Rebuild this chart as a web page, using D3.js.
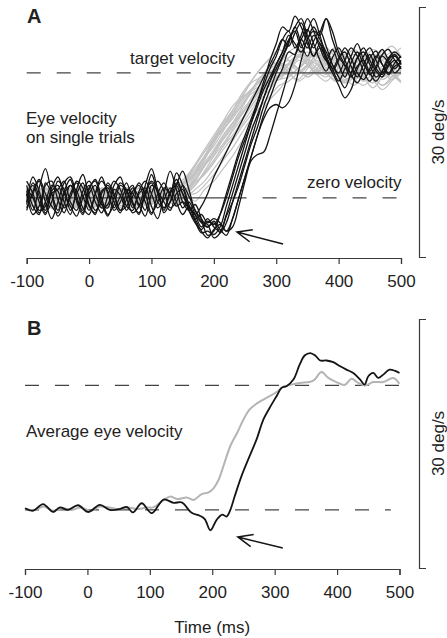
<!DOCTYPE html>
<html>
<head>
<meta charset="utf-8">
<script src="https://cdn.jsdelivr.net/npm/d3@7"></script>
<style>
  html, body { margin: 0; padding: 0; background: #fff; }
  svg { display: block; }
  text { font-family: "Liberation Sans", Arial, Helvetica, sans-serif; fill: #222; }
</style>
</head>
<body>
<svg id="chart" width="447" height="638"></svg>
<script>
const xTicks = [-100, 0, 100, 200, 300, 400, 500];
const blackTimes = d3.range(-100, 501, 10);
const grayTimes = d3.range(-100, 501, 15);
const targetSpeed = 15;

// single trials, deg/s, sampled every 10 ms (-100..500)
const blackTrials = [
  [1.5, -1.0, -2.0, 1.8, 0.5, -1.5, 0.8, 2.2, -0.5, -2.0,
   0.5, 1.5, -0.8, -1.2, 1.0, 0.3, -1.5, 0.2, 1.8, 0.5,
   -1.8, -0.5, 1.2, 0.4, -1.0, -0.5, -1.2, -2.0, -1.0, 0.5,
   2.5, 4.0, 5.5, 7.0, 8.5, 10.0, 11.5, 13.0, 14.5, 16.0,
   17.5, 19.0, 18.2, 19.8, 21.0, 19.0, 17.0, 18.5, 17.0, 15.5,
   16.8, 17.5, 15.8, 14.5, 16.0, 17.2, 15.5, 14.8, 16.5, 17.2,
   16.0],
  [-0.5, 2.5, 0.8, -1.8, -0.5, 2.0, 1.0, -1.5, 0.5, 1.8,
   -0.8, -2.0, 0.8, 1.2, -0.5, -1.8, 0.6, 1.5, -1.0, 0.2,
   2.8, 0.5, -1.5, 0.8, 1.5, -0.5, -1.5, -0.8, -2.5, -4.5,
   -4.0, -2.0, 0.5, 3.0, 5.5, 7.5, 9.5, 11.5, 13.5, 15.5,
   17.0, 19.0, 20.0, 18.0, 19.5, 21.5, 20.0, 18.0, 16.5, 17.8,
   16.0, 14.5, 16.2, 17.5, 16.0, 15.2, 16.8, 17.8, 16.5, 15.5,
   16.5],
  [0.8, -1.5, 1.2, 3.5, 0.5, -2.2, -0.8, 1.5, 0.8, -1.2,
   -2.0, 0.5, 2.0, 0.8, -1.5, -0.5, 1.0, 0.5, -0.8, -2.2,
   0.5, 2.0, 0.8, -1.2, -0.5, 1.5, 0.2, -1.5, -2.8, -3.2,
   -4.8, -4.2, -2.0, 0.5, 3.0, 5.5, 8.0, 10.0, 12.0, 14.0,
   16.0, 17.5, 19.0, 20.0, 18.0, 20.0, 21.5, 19.5, 17.0, 15.5,
   14.0, 15.5, 17.0, 18.5, 16.5, 14.8, 15.8, 17.0, 16.2, 15.0,
   15.8],
  [-1.2, 0.5, 2.0, -0.5, -2.5, -0.5, 1.8, 2.5, 0.2, -1.8,
   1.0, 2.2, 0.0, -2.0, -0.8, 1.5, 0.8, -1.2, 0.5, 1.2,
   -1.0, -2.5, 0.5, 3.2, 1.0, -1.2, -0.5, -2.0, -3.5, -2.5,
   -3.5, -4.0, -2.2, -0.5, 1.5, 4.0, 6.5, 8.5, 11.0, 13.0,
   15.0, 16.8, 18.5, 20.5, 18.5, 17.0, 18.8, 20.0, 18.2, 16.0,
   14.5, 13.2, 15.0, 16.8, 17.5, 16.0, 14.5, 15.2, 16.8, 17.5,
   16.8],
  [2.0, 0.5, -1.5, -1.0, 1.2, 2.5, 0.5, -1.0, -2.2, 0.0,
   1.5, -0.5, -1.8, 0.2, 2.0, 1.0, -1.0, -1.5, 0.8, 2.0,
   0.5, -1.2, -0.2, 1.2, -0.5, -2.0, -1.0, -2.5, -4.0, -4.8,
   -3.8, -3.2, -4.0, -2.5, 0.0, 2.5, 5.0, 7.5, 10.0, 12.0,
   14.0, 15.5, 17.5, 17.2, 19.0, 20.2, 18.5, 16.5, 15.2, 16.8,
   18.0, 16.5, 14.8, 13.8, 15.2, 16.8, 17.6, 16.0, 15.0, 16.2,
   17.0],
  [-0.8, 1.8, 0.2, -1.5, 0.8, 1.5, -0.5, -2.0, 1.0, 2.8,
   0.2, -1.5, -0.5, 1.8, 0.5, -1.5, -0.2, 1.2, 0.0, -1.5,
   1.5, 0.8, -1.8, -0.5, 1.8, 0.5, -1.0, -2.0, -3.0, -3.5,
   -2.8, -3.8, -4.5, -2.5, 0.0, 2.5, 5.0, 7.5, 9.5, 10.8,
   11.2, 10.8, 11.5, 13.5, 16.5, 19.0, 20.0, 19.5, 21.5, 20.0,
   17.5, 16.0, 15.0, 16.8, 18.0, 16.5, 15.2, 14.5, 15.8, 16.5,
   15.5],
  [0.5, -2.0, -1.0, 1.5, 2.0, -0.2, -1.8, 0.5, 1.8, 0.2,
   -1.5, 0.5, 2.5, 0.5, -1.2, 0.2, 1.8, -0.5, -2.0, 0.8,
   1.8, -0.5, -1.2, 0.5, 2.2, 0.5, -1.5, -2.5, -2.0, -3.0,
   -2.5, -3.0, -4.0, -3.5, -1.0, 2.0, 4.5, 5.2, 5.5, 7.5,
   10.0, 12.5, 15.0, 17.0, 19.0, 18.0, 19.5, 18.5, 16.5, 15.0,
   13.5, 12.0, 13.0, 15.5, 17.0, 18.0, 16.5, 15.0, 16.0, 17.0,
   16.2],
  [1.0, 0.0, -1.8, -0.5, 1.5, 0.8, -1.2, 0.0, 2.0, 1.2,
   -1.0, -1.8, 0.5, 1.5, 0.2, -1.5, -1.0, 0.8, 1.5, -0.5,
   -2.0, 0.5, 1.8, 0.5, 3.0, 1.5, -0.8, -2.8, -4.2, -4.0,
   -4.4, -3.5, -1.0, 1.5, 4.0, 6.5, 9.0, 11.5, 14.0, 16.5,
   18.5, 20.5, 20.0, 21.8, 20.5, 18.5, 17.0, 18.0, 16.8, 15.2,
   16.5, 18.0, 16.8, 15.0, 14.2, 15.5, 17.0, 16.0, 14.8, 15.8,
   16.2],
  [-1.5, 0.8, 2.2, 0.5, -1.0, -1.8, 0.5, 1.5, -0.2, -1.5,
   1.2, 2.0, -0.5, -2.2, 0.0, 1.8, 1.0, -0.8, -1.8, 0.5,
   2.0, 0.8, -0.5, -1.5, 0.5, 1.0, -1.5, -3.0, -3.8, -2.8,
   -3.2, -2.0, 0.0, 2.5, 5.0, 7.0, 9.0, 11.0, 13.0, 14.5,
   16.0, 17.5, 19.5, 18.5, 17.5, 19.0, 20.5, 19.0, 17.5, 16.0,
   15.0, 16.5, 18.0, 17.0, 15.2, 14.0, 15.5, 17.2, 17.8, 16.5,
   15.5],
  [0.2, 1.5, -0.5, -2.0, 0.5, 1.0, 2.0, -0.5, -1.5, 0.8,
   2.0, 0.5, -1.2, -0.8, 1.5, 2.5, 0.0, -1.8, -1.0, 1.5,
   3.5, 1.0, -1.2, -0.5, 1.5, 3.2, 1.0, -1.5, -2.5, -3.5,
   -3.0, -4.2, -3.0, -0.5, 2.0, 4.5, 7.0, 9.5, 12.0, 14.0,
   15.5, 17.0, 18.8, 20.5, 21.5, 19.5, 18.0, 19.8, 21.5, 19.0,
   17.0, 15.8, 14.5, 15.8, 16.5, 15.0, 14.0, 15.2, 16.8, 17.0,
   16.0]
];

// single trials, deg/s, sampled every 15 ms (-100..500)
const grayTrials = [
  [0.8, -0.5, -1.2, 0.5, 1.2, -0.3, -1.0, 0.6, 1.0, -0.8,
   -0.5, 0.9, 0.2, -0.8, 0.6, -0.3, 0.5, 2.0, 3.5, 5.0,
   7.0, 8.5, 10.5, 12.0, 13.0, 14.5, 15.2, 14.5, 16.0, 17.0,
   16.0, 15.0, 16.2, 15.5, 14.2, 15.0, 16.5, 15.8, 14.5, 15.2,
   16.0],
  [-0.6, 0.4, 1.2, 0.2, -1.0, -0.4, 0.9, 1.1, -0.3, -1.2,
   0.3, 1.0, -0.5, -0.9, 0.2, 0.6, 1.2, 2.2, 3.8, 5.5,
   7.2, 9.0, 10.5, 12.5, 14.0, 15.5, 16.5, 15.8, 16.8, 17.5,
   16.2, 15.0, 16.0, 17.2, 16.0, 14.8, 15.5, 16.8, 17.5, 16.0,
   15.5],
  [1.2, 0.2, -0.8, -1.3, 0.4, 1.0, -0.2, -1.0, 0.5, 1.2,
   0.0, -1.1, -0.3, 0.8, 0.4, 1.3, 0.2, 0.8, 2.5, 4.0,
   5.5, 7.5, 9.0, 10.0, 12.0, 13.5, 14.0, 15.5, 14.8, 15.5,
   16.8, 17.5, 16.2, 15.0, 14.0, 15.2, 16.0, 14.8, 13.5, 14.5,
   15.5],
  [-0.3, -1.2, 0.2, 1.1, 0.6, -0.8, -1.3, 0.2, 1.2, 0.5,
   -0.9, -0.6, 0.8, 1.4, 0.5, 0.0, -1.0, 0.3, 1.5, 3.0,
   4.5, 6.2, 8.0, 9.5, 11.0, 12.5, 13.8, 14.5, 16.0, 15.5,
   14.5, 15.5, 17.0, 18.0, 16.5, 15.2, 14.0, 15.0, 16.5, 17.5,
   16.8],
  [0.5, 1.3, 0.4, -0.9, -1.1, 0.3, 1.4, 0.5, -0.8, -0.5,
   0.8, 0.4, -1.0, -0.2, 0.7, -0.4, 1.0, 1.8, 3.0, 4.8,
   6.5, 8.5, 10.0, 12.0, 14.0, 15.5, 16.8, 17.8, 16.5, 15.5,
   16.5, 17.2, 16.0, 14.5, 13.8, 15.0, 16.2, 17.0, 16.0, 14.8,
   14.0],
  [-1.0, 0.3, 1.0, 0.0, -0.7, 0.9, 1.3, -0.2, -1.1, 0.4,
   1.0, -0.3, -1.2, 0.5, 0.9, -0.4, 0.6, 0.2, 1.0, 2.0,
   3.5, 5.0, 6.8, 8.5, 10.0, 11.8, 13.0, 14.5, 15.0, 16.5,
   16.0, 14.8, 15.5, 16.8, 17.2, 15.8, 14.5, 13.2, 14.5, 15.8,
   16.5],
  [0.9, -0.2, -1.2, -0.3, 1.0, 0.8, -0.6, -1.3, 0.1, 1.0,
   0.6, -0.6, 0.3, 1.2, 0.4, -0.2, -0.8, 0.8, 2.0, 3.8,
   5.2, 7.0, 8.5, 10.2, 11.5, 13.0, 14.0, 14.2, 15.5, 17.0,
   18.0, 17.0, 15.5, 14.5, 15.5, 16.5, 15.5, 14.2, 13.0, 14.0,
   15.2],
  [-0.5, -1.0, 0.5, 1.3, 0.0, -1.2, -0.5, 0.8, 1.1, -0.2,
   -1.0, 0.2, 1.1, 0.4, -0.5, 0.3, -0.4, 1.0, 2.8, 4.5,
   6.8, 8.2, 9.8, 11.5, 12.8, 13.5, 14.8, 16.0, 17.5, 18.0,
   16.5, 15.2, 14.5, 15.8, 17.0, 16.2, 15.0, 15.8, 17.2, 18.2,
   17.0],
  [0.3, 1.1, 0.5, -0.8, -1.2, 0.2, 1.1, 0.4, -0.9, -0.4,
   0.8, 1.2, -0.3, -1.1, 0.0, 0.9, 0.2, 0.5, 0.5, 1.5,
   2.8, 4.5, 6.0, 7.8, 9.5, 11.0, 12.2, 13.5, 14.0, 15.0,
   15.8, 16.5, 15.0, 14.2, 15.0, 16.0, 17.0, 16.2, 15.0, 14.5,
   15.5],
  [-1.2, 0.0, 1.0, 0.6, -0.6, -1.1, 0.3, 1.3, 0.5, -0.8,
   -0.7, 0.6, 1.2, 0.0, -0.9, 0.2, 0.6, 1.8, 3.0, 4.8,
   6.2, 8.0, 9.8, 11.0, 12.8, 14.0, 15.0, 16.2, 15.5, 14.8,
   15.8, 17.0, 16.0, 15.0, 13.8, 14.5, 16.0, 17.2, 16.5, 15.2,
   14.0],
  [0.6, 1.2, -0.2, -1.2, -0.2, 1.0, 0.7, -0.9, -1.0, 0.5,
   1.2, 0.1, -0.8, 0.3, 1.1, 0.0, -0.6, 0.5, 1.8, 2.8,
   4.2, 5.8, 7.2, 8.8, 10.5, 12.2, 13.5, 14.2, 14.5, 15.5,
   16.5, 16.0, 15.0, 15.8, 17.0, 16.0, 14.5, 13.8, 15.0, 16.2,
   17.0],
  [-0.2, -0.9, 0.4, 1.2, 0.8, -0.5, -1.2, -0.2, 0.9, 1.2,
   0.0, -1.0, -0.2, 1.0, 0.8, -0.3, 0.5, 1.5, 2.8, 4.2,
   5.8, 7.5, 9.0, 10.8, 12.5, 13.2, 14.5, 15.8, 16.5, 15.5,
   14.8, 15.5, 16.8, 16.0, 14.5, 13.5, 14.8, 16.0, 15.2, 14.2,
   15.0],
  [1.0, 0.2, -0.9, -0.8, 0.5, 1.2, 0.1, -1.1, -0.5, 0.8,
   1.0, -0.4, -1.2, 0.0, 0.9, 0.6, -0.5, 0.3, -0.4, 1.0,
   2.0, 3.5, 5.0, 6.8, 8.5, 10.2, 11.8, 13.0, 14.5, 15.5,
   16.5, 17.5, 16.5, 15.2, 14.0, 15.0, 16.5, 17.8, 17.0, 15.5,
   14.8],
  [-0.8, 0.6, 1.1, -0.1, -1.2, -0.3, 1.0, 0.8, -0.4, -1.0,
   0.2, 1.1, 0.3, -0.8, 0.2, 0.8, 1.5, 2.5, 4.0, 5.5,
   7.0, 8.8, 10.2, 11.8, 13.0, 14.2, 15.5, 16.0, 15.0, 14.0,
   14.8, 16.0, 17.0, 16.5, 15.0, 14.2, 13.5, 14.5, 15.5, 14.8,
   13.8],
  [0.4, -0.6, -1.1, 0.2, 1.1, 0.5, -0.9, -0.8, 0.7, 1.3,
   0.2, -0.9, -0.5, 0.9, 1.0, -0.3, -0.8, 0.5, 1.5, 3.2,
   5.0, 6.5, 8.2, 10.0, 11.5, 12.8, 13.5, 14.8, 16.2, 17.2,
   16.8, 15.5, 14.8, 15.8, 16.8, 17.8, 16.5, 15.0, 15.8, 17.0,
   18.0],
  [-0.4, 0.8, 1.2, 0.3, -0.9, -1.0, 0.4, 1.1, 0.2, -1.0,
   -0.3, 0.9, 0.6, -0.7, -0.4, 0.5, 1.0, 2.0, 3.2, 5.0,
   6.8, 8.2, 9.5, 11.2, 12.8, 14.5, 15.2, 14.5, 15.5, 16.8,
   17.5, 16.2, 15.0, 14.0, 14.8, 16.0, 16.8, 15.5, 14.2, 15.0,
   16.2],
  [1.1, 0.0, -1.0, -0.4, 0.8, 1.0, -0.3, -1.2, 0.0, 1.1,
   0.4, -1.0, -0.2, 1.1, 0.5, -0.7, 0.0, 0.8, 1.8, 3.0,
   4.5, 6.2, 7.5, 9.2, 11.0, 12.5, 13.8, 14.8, 16.0, 15.5,
   14.5, 15.2, 16.5, 17.8, 16.5, 15.2, 14.5, 15.8, 16.8, 15.8,
   14.8],
  [0.0, 1.0, 0.5, -0.9, -1.0, 0.5, 1.2, 0.0, -1.0, -0.2,
   1.0, 0.7, -0.6, -0.5, -0.2, 0.6, 0.8, 2.2, 4.0, 5.8,
   7.5, 9.2, 11.0, 12.2, 13.8, 14.5, 15.8, 16.2, 15.0, 14.2,
   15.5, 16.8, 17.5, 16.2, 15.5, 16.5, 17.5, 16.2, 15.0, 15.8,
   17.0],
  [-1.0, -0.3, 0.9, 1.0, -0.2, -1.1, -0.2, 1.0, 0.9, -0.5,
   -1.2, 0.1, 1.2, 0.4, -0.6, 0.6, 0.2, 1.0, 2.2, 3.8,
   5.5, 7.2, 8.8, 10.5, 11.8, 13.2, 14.0, 15.5, 16.0, 15.2,
   16.0, 17.2, 18.0, 16.8, 15.5, 14.2, 15.0, 16.2, 17.2, 16.5,
   15.2],
  [0.7, 1.3, 0.1, -1.0, -0.6, 0.6, 1.2, -0.1, -1.2, 0.0,
   1.1, 0.3, -0.9, -0.6, 0.7, 1.0, 0.2, 0.8, 2.2, 3.8,
   5.5, 7.0, 8.5, 10.2, 11.5, 12.8, 13.5, 14.8, 16.0, 17.0,
   16.0, 14.8, 14.0, 15.2, 16.5, 17.2, 16.0, 14.5, 13.5, 14.2,
   15.2]
];

// averages, [ms, deg/s]
const avgGray = [
  [-100, 0.1], [-85, 0.0], [-70, 0.4], [-55, -0.1], [-40, 0.2], [-25, 0.0],
  [-10, 0.3], [5, -0.1], [20, 0.4], [35, 0.3], [50, 0.1], [65, 0.3],
  [80, 0.1], [95, 0.3], [105, 0.3], [121, 1.1], [132, 1.6], [145, 1.3],
  [159, 1.5], [170, 1.2], [183, 1.9], [194, 2.1], [202, 2.6], [210, 3.6],
  [218, 5.3], [229, 7.7], [240, 9.3], [250, 10.9], [260, 12.1], [271, 12.8],
  [282, 13.3], [292, 13.7], [303, 14.2], [314, 14.85], [324, 15.05], [340, 15.3],
  [356, 15.4], [364, 15.7], [375, 16.6], [386, 15.9], [399, 15.4], [412, 15.05],
  [423, 15.8], [434, 15.3], [445, 15.0], [458, 15.4], [474, 15.4], [490, 15.9],
  [500, 15.2]
];
const avgBlack = [
  [-100, 0.2], [-87, -0.1], [-71, 0.7], [-55, -0.25], [-44, 0.3], [-31, 0.0],
  [-15, 0.56], [1, -0.25], [20, 0.6], [36, 0.0], [52, 0.1], [63, 0.36],
  [73, -0.3], [87, 0.8], [103, -0.4], [122, 1.25], [138, 0.85], [151, 0.9],
  [167, -0.35], [180, -0.7], [188, -1.1], [197, -2.45], [207, -1.2], [216, -0.56],
  [223, -0.8], [229, 0.0], [236, 1.65], [247, 4.1], [260, 6.5], [271, 8.5],
  [282, 10.9], [292, 12.3], [303, 13.7], [311, 14.7], [319, 14.9], [330, 15.7],
  [340, 17.5], [348, 18.6], [357, 18.9], [365, 18.6], [373, 18.0], [383, 18.0],
  [394, 17.8], [405, 17.3], [415, 16.9], [426, 16.5], [437, 15.7], [444, 15.1],
  [450, 16.1], [458, 16.5], [466, 15.9], [474, 16.3], [484, 16.9], [493, 16.75],
  [500, 16.5]
];

const svg = d3.select('#chart');
svg.append('rect').attr('width', 447).attr('height', 638).attr('fill', '#fff');

const xA = d3.scaleLinear().domain([-100, 500]).range([26.7, 401]);
const yA = d3.scaleLinear().domain([-7.1, 22.9]).range([257, 7]);
const xB = d3.scaleLinear().domain([-100, 500]).range([25, 399.5]);
const yB = d3.scaleLinear().domain([-7, 23]).range([568, 319]);

const axisColor = '#3a3a3a';
const dashColor = '#444';
const grayColor = '#c2c2c2';
const inkColor = '#141414';

function drawAxes(x, y) {
  const xg = svg.append('g')
    .attr('transform', `translate(0,${y.range()[0] + 1})`)
    .call(d3.axisBottom(x).tickValues(xTicks).tickSize(6).tickPadding(11)
      .tickFormat(d => String(d)))
    .attr('font-size', 17);
  xg.select('.domain').attr('stroke', axisColor).attr('stroke-width', 1.2);
  xg.selectAll('.tick line').attr('stroke', axisColor).attr('stroke-width', 1.2);

  // 30 deg/s scale bar
  const yg = svg.append('g')
    .attr('transform', 'translate(419,0)')
    .call(d3.axisRight(y).tickValues([]).tickSizeOuter(7));
  yg.select('.domain').attr('stroke', axisColor).attr('stroke-width', 1.2);

  const mid = (y.range()[0] + y.range()[1]) / 2;
  svg.append('text')
    .attr('transform', `translate(438,${mid}) rotate(-90)`)
    .attr('text-anchor', 'middle')
    .attr('dy', '0.35em')
    .attr('font-size', 17)
    .text('30 deg/s');
}

function refLine(x, y, from, to, value, dashed) {
  svg.append('line')
    .attr('x1', x(from)).attr('x2', x(to))
    .attr('y1', y(value)).attr('y2', y(value))
    .attr('stroke', dashColor)
    .attr('stroke-width', 1.2)
    .attr('stroke-dasharray', dashed ? '14,16' : null);
}

function arrow(x, y, from, to) {
  const x0 = x(from[0]), y0 = y(from[1]);
  const x1 = x(to[0]), y1 = y(to[1]);
  const ang = Math.atan2(y0 - y1, x0 - x1);
  const len = 16, spread = 0.4;
  const path = d3.path();
  path.moveTo(x0, y0);
  path.lineTo(x1, y1);
  path.moveTo(x1 + len * Math.cos(ang - spread), y1 + len * Math.sin(ang - spread));
  path.lineTo(x1, y1);
  path.lineTo(x1 + len * Math.cos(ang + spread), y1 + len * Math.sin(ang + spread));
  svg.append('path')
    .attr('d', path.toString())
    .attr('fill', 'none')
    .attr('stroke', inkColor)
    .attr('stroke-width', 1.5);
}

// ---------- panel A ----------
drawAxes(xA, yA);

const lineGray = d3.line()
  .x((d, i) => xA(grayTimes[i]))
  .y(d => yA(d))
  .curve(d3.curveCatmullRom.alpha(0.5));
const lineBlack = d3.line()
  .x((d, i) => xA(blackTimes[i]))
  .y(d => yA(d))
  .curve(d3.curveCatmullRom.alpha(0.5));

svg.append('g').selectAll('path')
  .data(grayTrials)
  .enter()
  .append('path')
  .attr('d', lineGray)
  .attr('fill', 'none')
  .attr('stroke', grayColor)
  .attr('stroke-width', 1.2);

refLine(xA, yA, -100, 272, targetSpeed, true);
refLine(xA, yA, 272, 500, targetSpeed, false);
refLine(xA, yA, -100, 230, 0, false);
refLine(xA, yA, 230, 500, 0, true);

svg.append('g').selectAll('path')
  .data(blackTrials)
  .enter()
  .append('path')
  .attr('d', lineBlack)
  .attr('fill', 'none')
  .attr('stroke', inkColor)
  .attr('stroke-width', 1.3);

arrow(xA, yA, [311, -5.55], [237, -4.1]);

svg.append('text').attr('x', 27).attr('y', 22.7)
  .attr('font-size', 20).attr('font-weight', 'bold').text('A');
svg.append('text').attr('x', 182.5).attr('y', 64)
  .attr('text-anchor', 'middle').attr('font-size', 17).text('target velocity');
svg.append('text').attr('x', 401.5).attr('y', 188.3)
  .attr('text-anchor', 'end').attr('font-size', 17).text('zero velocity');
svg.append('text').attr('x', 26).attr('y', 124)
  .attr('font-size', 17).text('Eye velocity');
svg.append('text').attr('x', 26).attr('y', 143)
  .attr('font-size', 17).text('on single trials');

// ---------- panel B ----------
drawAxes(xB, yB);

refLine(xB, yB, -100, 500, targetSpeed, true);
refLine(xB, yB, -100, 486, 0, true);

const lineAvg = d3.line()
  .x(d => xB(d[0]))
  .y(d => yB(d[1]))
  .curve(d3.curveCatmullRom.alpha(0.5));

svg.append('path')
  .datum(avgGray)
  .attr('d', lineAvg)
  .attr('fill', 'none')
  .attr('stroke', '#b4b4b4')
  .attr('stroke-width', 2);

svg.append('path')
  .datum(avgBlack)
  .attr('d', lineAvg)
  .attr('fill', 'none')
  .attr('stroke', inkColor)
  .attr('stroke-width', 1.8);

arrow(xB, yB, [313, -4.6], [241, -3.26]);

svg.append('text').attr('x', 27).attr('y', 335)
  .attr('font-size', 20).attr('font-weight', 'bold').text('B');
svg.append('text').attr('x', 26).attr('y', 437.3)
  .attr('font-size', 17).text('Average eye velocity');
svg.append('text').attr('x', xB(200)).attr('y', 633)
  .attr('text-anchor', 'middle').attr('font-size', 17).text('Time (ms)');
</script>
</body>
</html>
